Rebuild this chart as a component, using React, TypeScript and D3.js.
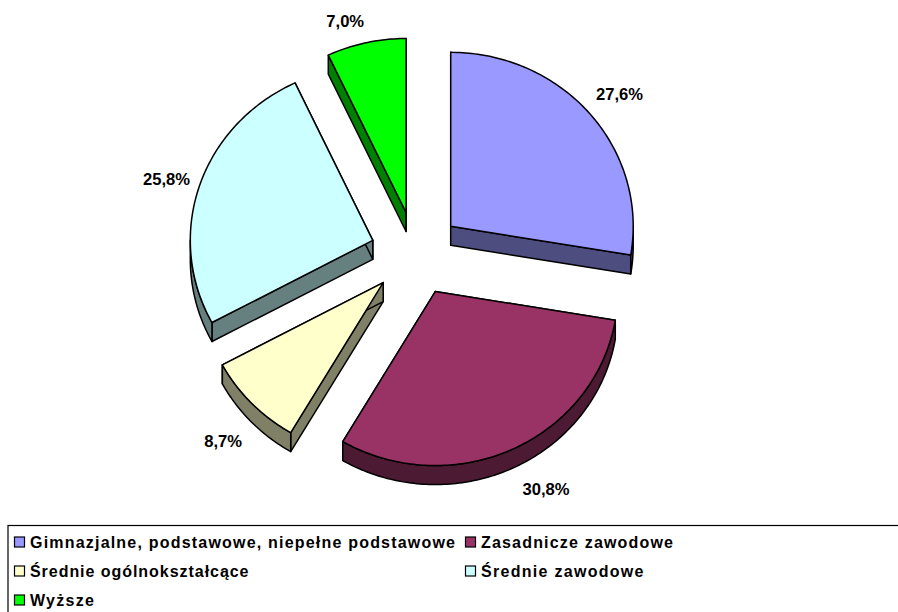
import * as d3 from "d3";

const categories = [
    "Gimnazjalne, podstawowe, niepełne podstawowe",
    "Zasadnicze zawodowe",
    "Średnie ogólnokształcące",
    "Średnie zawodowe",
    "Wyższe",
];
const shares = [27.6, 30.8, 8.7, 25.8, 7.0];
const labels = ["27,6%", "30,8%", "8,7%", "25,8%", "7,0%"];
const topColors = ["#9999FF", "#993366", "#FFFFCC", "#CCFFFF", "#00FF00"];
const sideColors = ["#4D4D80", "#4D1A33", "#808066", "#668080", "#008000"];

const width = 898;
const height = 612;
const font = "'Liberation Sans', Arial, sans-serif";

// pie layout
const cx = 416;
const cy = 253.5;
const rx = 182.5;
const ry = 174;
const explodeX = 45.5;
const explodeY = 42;
const depth = 19;

// label shift from the rim of each slice
const labelShift = [
    [29.5, -19],
    [33.5, 40],
    [-28.5, 38],
    [-33, -6],
    [-21, -21],
];

// rendered width of each legend entry
const legendWidths = [425, 192, 218.5, 162.5, 64];

const pie = d3
    .pie<number>()
    .sort(null)
    .value((d) => d);

const line = d3.line();

const App = () => {
    const arcs = pie(shares);

    const slices = arcs.map((a, i) => {
        const mid = (a.startAngle + a.endAngle) / 2;
        const ax = cx + explodeX * Math.sin(mid);
        const ay = cy - explodeY * Math.cos(mid);
        const rim = (t: number, dy = 0): [number, number] => [
            ax + rx * Math.sin(t),
            ay - ry * Math.cos(t) + dy,
        ];
        const steps = (from: number, to: number) => {
            const n = Math.max(2, Math.ceil((to - from) * 60));
            return d3.range(n + 1).map((k) => from + ((to - from) * k) / n);
        };
        const rimTop = steps(a.startAngle, a.endAngle).map((t) => rim(t));
        const top = line([[ax, ay], ...rimTop]) + "Z";

        const cut = (t: number) =>
            line([
                [ax, ay],
                rim(t),
                rim(t, depth),
                [ax, ay + depth],
            ]) + "Z";

        // outer wall only shows on the lower half of the ellipse
        const from = Math.max(a.startAngle, Math.PI / 2);
        const to = Math.min(a.endAngle, (3 * Math.PI) / 2);
        let wall = null;
        if (to > from) {
            const ts = steps(from, to);
            wall =
                line([
                    ...ts.map((t) => rim(t)),
                    ...ts.slice().reverse().map((t) => rim(t, depth)),
                ]) + "Z";
        }
        const labelPos = rim(mid);
        return {
            top,
            cuts: [cut(a.startAngle), cut(a.endAngle)],
            wall,
            lx: labelPos[0] + labelShift[i][0],
            ly: labelPos[1] + labelShift[i][1],
        };
    });

    // legend goes across in two columns
    const legendCol = d3.scaleOrdinal<number, number>().domain([0, 1]).range([14.5, 465.5]);
    const legendRow = d3.scalePoint<number>().domain([0, 1, 2]).range([542, 600]);

    return (
        <svg
            width={width}
            height={height}
            style={{ position: "absolute", left: 0, top: 0, display: "block", background: "#fff" }}
        >
            {slices.map((s, i) => (
                <g key={i} stroke="#000" strokeWidth={1.5} strokeLinejoin="round">
                    {s.cuts.map((d, j) => (
                        <path key={j} d={d} fill={sideColors[i]} />
                    ))}
                    {s.wall && <path d={s.wall} fill={sideColors[i]} />}
                    <path d={s.top} fill={topColors[i]} />
                </g>
            ))}
            {slices.map((s, i) => (
                <text
                    key={i}
                    x={s.lx}
                    y={s.ly}
                    textAnchor="middle"
                    dominantBaseline="central"
                    fontFamily={font}
                    fontWeight="bold"
                    fontSize={16.6}
                    fill="#000"
                >
                    {labels[i]}
                </text>
            ))}
            <rect x={8} y={525.5} width={width + 20} height={height} fill="none" stroke="#000" strokeWidth={1.2} />
            {categories.map((c, i) => {
                const x = legendCol(i % 2);
                const y = legendRow(Math.floor(i / 2));
                return (
                    <g key={c}>
                        <rect x={x} y={y - 5} width={10} height={10} fill={topColors[i]} stroke="#000" strokeWidth={1.2} />
                        <text
                            x={x + 15.5}
                            y={y + 6}
                            fontFamily={font}
                            fontWeight="bold"
                            fontSize={16}
                            textLength={legendWidths[i]}
                            lengthAdjust="spacing"
                            fill="#000"
                        >
                            {c}
                        </text>
                    </g>
                );
            })}
        </svg>
    );
};

export default App;
